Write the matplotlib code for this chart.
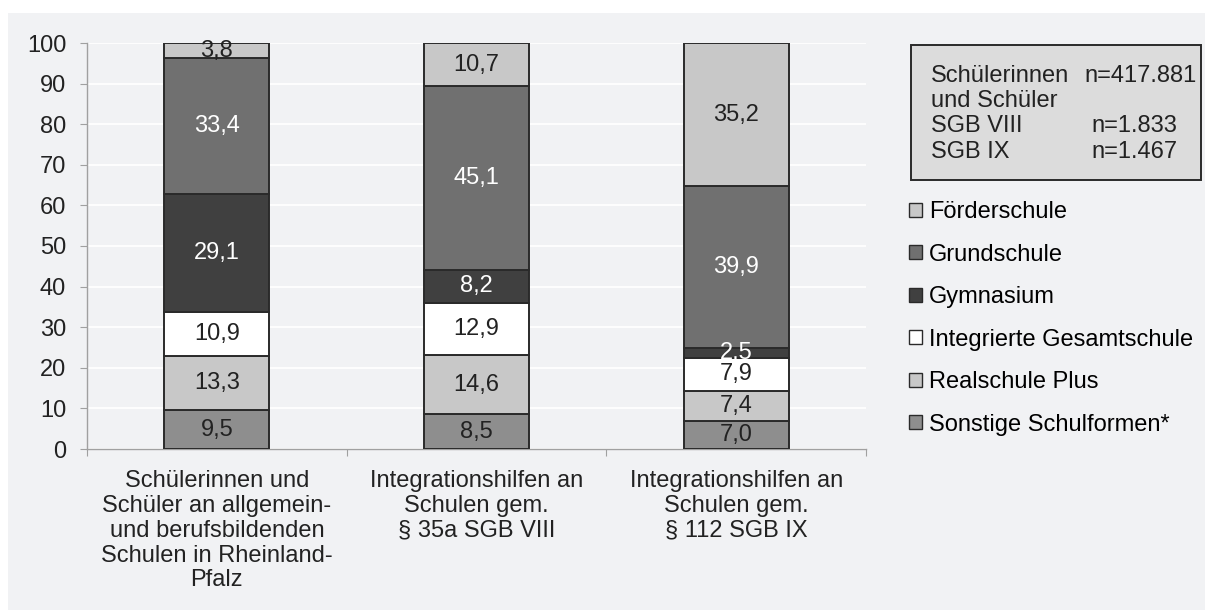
import numpy as np
import matplotlib.pyplot as plt
from matplotlib.patches import Rectangle

plt.rcParams['font.family'] = ['Liberation Sans', 'DejaVu Sans']

categories = ["Schülerinnen und\nSchüler an allgemein-\nund berufsbildenden\nSchulen in Rheinland-\nPfalz",
              "Integrationshilfen an\nSchulen gem.\n§ 35a SGB VIII",
              "Integrationshilfen an\nSchulen gem.\n§ 112 SGB IX"]
# stacked bottom -> top
series = ["Sonstige Schulformen*", "Realschule Plus", "Integrierte Gesamtschule",
          "Gymnasium", "Grundschule", "Förderschule"]
sonstige = [9.5, 8.5, 7.0]
realschule = [13.3, 14.6, 7.4]
gesamtschule = [10.9, 12.9, 7.9]
gymnasium = [29.1, 8.2, 2.5]
grundschule = [33.4, 45.1, 39.9]
foerderschule = [3.8, 10.7, 35.2]

values = [sonstige, realschule, gesamtschule, gymnasium, grundschule, foerderschule]
colors = ["#8e8e8e", "#c8c8c8", "#ffffff", "#404040", "#707070", "#c8c8c8"]
text_colors = ["#222222", "#222222", "#222222", "white", "white", "#222222"]

FS = 17
W, H = 1205, 610
bg = "#f1f2f4"
fig = plt.figure(figsize=(W / 100, H / 100), dpi=100, facecolor="white")
# grey chart area with thin white margin top/left
fig.patches.append(Rectangle((8 / W, 0), 1, 1 - 13 / H, transform=fig.transFigure,
                             facecolor=bg, edgecolor="none", zorder=-10))

ax = fig.add_axes([87 / W, 161 / H, 779 / W, 406 / H], facecolor=bg)
ax.set_zorder(2)

x = np.arange(len(categories))
bottom = np.zeros(len(categories))
handles = []
for name, vals, c, tc in zip(series, values, colors, text_colors):
    bars = ax.bar(x, vals, 0.405, bottom=bottom, color=c, edgecolor="#2a2a2a",
                  linewidth=1.4, label=name, zorder=3)
    handles.append(bars)
    for xi, b, v in zip(x, bottom, vals):
        ax.text(xi, b + v / 2, f"{v:.1f}".replace(".", ","), ha="center", va="center",
                fontsize=FS, color=tc, zorder=4)
    bottom += np.array(vals)

ax.set_xlim(-0.5, 2.5)
ax.set_ylim(0, 100)
ax.set_yticks(range(0, 101, 10))
ax.yaxis.grid(True, color="white", linewidth=1.3, zorder=0)
ax.set_axisbelow(True)
for s in ["top", "right"]:
    ax.spines[s].set_visible(False)
for s in ["left", "bottom"]:
    ax.spines[s].set_color("#a0a0a0")
    ax.spines[s].set_linewidth(1.0)
ax.tick_params(axis="y", labelsize=FS, color="#a0a0a0", length=5, labelcolor="#222222", pad=10)
ax.set_xticks([-0.5, 0.5, 1.5, 2.5])
ax.set_xticklabels([])
ax.tick_params(axis="x", color="#a0a0a0", length=5)
ax.set_xticks(x, minor=True)
ax.set_xticklabels(categories, minor=True, fontsize=FS, color="#222222", linespacing=1.17)
ax.tick_params(axis="x", which="minor", length=0, pad=15)

# legend in reverse stacking order
leg = fig.legend(handles[::-1], series[::-1], loc="upper left",
                 bbox_to_anchor=(909 / W, 1 - 201 / H),
                 frameon=False, fontsize=FS, handlelength=0.55, handleheight=0.55,
                 handletextpad=0.3, labelspacing=0.87, borderaxespad=0, borderpad=0)
for h in leg.legend_handles:
    h.set_edgecolor("#2a2a2a")
    h.set_linewidth(1.0)

# info box
fig.patches.append(Rectangle((911 / W, 1 - 180 / H), 290 / W, 135 / H, transform=fig.transFigure,
                             facecolor="#dcdcdc", edgecolor="#2a2a2a", linewidth=1.4, zorder=1))
left_col = ["Schülerinnen", "und Schüler", "SGB VIII", "SGB IX"]
right_col = ["n=417.881", "", "n=1.833", "n=1.467"]
right_x = [1084, 1084, 1091, 1091]
line_y = [76, 101, 126, 152]
for lt, rt, rx, ly in zip(left_col, right_col, right_x, line_y):
    fig.text(931 / W, 1 - ly / H, lt, fontsize=FS, color="#222222", va="center", ha="left", zorder=2)
    fig.text(rx / W, 1 - ly / H, rt, fontsize=FS, color="#222222", va="center", ha="left", zorder=2)

fig.savefig("out.png", dpi=100, facecolor="white")
